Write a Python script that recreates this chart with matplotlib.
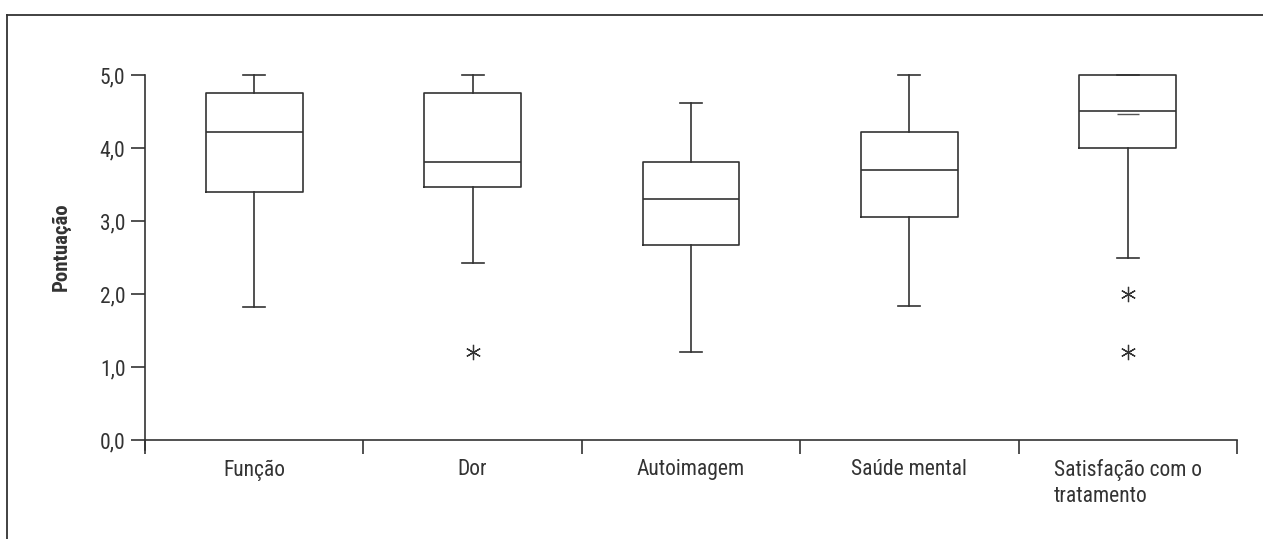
import matplotlib.pyplot as plt
from matplotlib.lines import Line2D

plt.rcParams['font.family'] = ['Roboto Condensed', 'Liberation Sans Narrow',
                               'Arial Narrow', 'Liberation Sans', 'DejaVu Sans']

categorias = ['Função', 'Dor', 'Autoimagem', 'Saúde mental',
              'Satisfação com o\ntratamento']
whisker_baixo = [1.82, 2.42, 1.20, 1.83, 2.49]
q1 = [3.40, 3.47, 2.67, 3.05, 4.00]
mediana = [4.22, 3.81, 3.30, 3.70, 4.50]
q3 = [4.75, 4.75, 3.81, 4.22, 5.00]
whisker_alto = [5.00, 5.00, 4.62, 5.00, 5.00]
outliers = [[], [1.21], [], [], [2.00, 1.21]]
marca_extra = [None, None, None, None, 4.47]

cor = '#333333'

fig = plt.figure(figsize=(12.63, 5.39), dpi=100)
ax = fig.add_axes([0.1148, 0.1837, 0.9794 - 0.1148, 0.8609 - 0.1837])

posicoes = [i + 0.5 for i in range(len(categorias))]
stats = []
for i in range(len(categorias)):
    stats.append(dict(whislo=whisker_baixo[i], q1=q1[i], med=mediana[i],
                      q3=q3[i], whishi=whisker_alto[i], fliers=outliers[i]))

estilo = dict(color=cor, linewidth=1.2)
ax.bxp(stats, positions=posicoes, widths=0.444, showcaps=True,
       boxprops=estilo, whiskerprops=estilo, capprops=estilo,
       medianprops=estilo, capwidths=0.1,
       flierprops=dict(marker=(6, 2, 0), markersize=11, markeredgecolor=cor,
                       markeredgewidth=0.9, linestyle='none'),
       manage_ticks=False)

for p, m in zip(posicoes, marca_extra):
    if m is not None:
        ax.hlines(m, p - 0.05, p + 0.05, color='#555555', linewidth=1.0)

for artist in ax.get_children():
    if isinstance(artist, Line2D):
        artist.set_clip_on(False)

ax.set_xlim(0, len(categorias))
ax.set_ylim(0, 5)

ax.spines['top'].set_visible(False)
ax.spines['right'].set_visible(False)
ax.spines['left'].set_color(cor)
ax.spines['bottom'].set_color(cor)
ax.spines['left'].set_linewidth(1.2)
ax.spines['bottom'].set_linewidth(1.2)
ax.spines['left'].set_bounds(-0.14, 5)

ax.set_yticks([0, 1, 2, 3, 4, 5])
ax.set_yticklabels(['0,0', '1,0', '2,0', '3,0', '4,0', '5,0'])
ax.set_xticks(range(len(categorias) + 1))
ax.set_xticklabels([])
ax.set_xticks(posicoes, minor=True)
ax.set_xticklabels(categorias, minor=True, multialignment='left',
                   linespacing=1.3)
ax.tick_params(axis='x', which='minor', length=0, pad=14,
               labelsize=15.5, labelcolor=cor)
ax.tick_params(axis='x', which='major', direction='out', length=10,
               width=1.2, color=cor)
ax.tick_params(axis='y', direction='out', length=10, width=1.2, color=cor,
               labelsize=15.5, labelcolor=cor, pad=4)

ax.set_ylabel('Pontuação', fontsize=15, fontweight='bold', color=cor)
ax.yaxis.set_label_coords(-0.068, 0.53)

# moldura da figura
x0 = 7 / 1263
y0 = 1 - 15 / 539
fig.add_artist(Line2D([x0, x0], [0, y0], color=cor, linewidth=1.3))
fig.add_artist(Line2D([x0, 1], [y0, y0], color=cor, linewidth=1.3))

fig.savefig('out.png', dpi=100)
